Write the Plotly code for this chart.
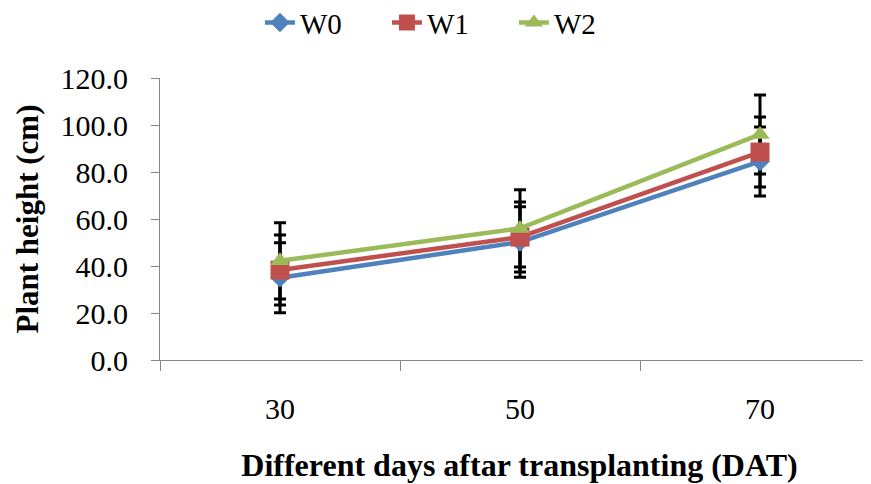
import plotly.graph_objects as go

days = ["30", "50", "70"]
series_names = ["W0", "W1", "W2"]
w0 = [35.0, 50.2, 84.5]
w1 = [38.3, 52.3, 88.5]
w2 = [42.2, 56.0, 96.0]
w0_err = [14.9, 15.0, 14.7]
w1_err = [14.9, 14.9, 14.9]
w2_err = [16.2, 16.4, 16.8]
y_ticks = [0, 20, 40, 60, 80, 100, 120]

values = [w0, w1, w2]
errors = [w0_err, w1_err, w2_err]
colors = ["#4F81BD", "#C0504D", "#9BBB59"]
symbols = ["diamond", "square", "triangle-up"]
sizes = [15, 19, 17]

FONT = "Liberation Serif"
fig = go.Figure()

# error bars first (below lines and markers)
for v, e in zip(values, errors):
    fig.add_trace(go.Scatter(
        x=days, y=v, mode="markers", marker=dict(size=1, opacity=0),
        error_y=dict(type="data", array=e, visible=True, color="black",
                     thickness=3, width=6),
        showlegend=False, hoverinfo="skip"))

for name, v, c, s, sz in zip(series_names, values, colors, symbols, sizes):
    fig.add_trace(go.Scatter(
        x=days, y=v, name=name, mode="lines+markers",
        line=dict(color=c, width=4.5),
        marker=dict(symbol=s, size=sz, color=c)))

fig.update_layout(
    width=871, height=484,
    margin=dict(l=152, r=0, t=70, b=132, autoexpand=False),
    plot_bgcolor="white", paper_bgcolor="white",
    font=dict(family=FONT, size=30, color="black"),
    legend=dict(orientation="h", x=0.139, xanchor="left",
                y=1.196, yanchor="middle", yref="paper",
                font=dict(size=29, family=FONT),
                entrywidth=82, entrywidthmode="pixels",
                traceorder="normal", tracegroupgap=0),
    showlegend=True,
)

fig.update_xaxes(
    type="category", range=[-0.5, 2.4958], tickson="boundaries",
    showline=True, linecolor="#868686", linewidth=1.2,
    ticks="outside", ticklen=10, tickcolor="#868686", tickwidth=1.2,
    showgrid=False, zeroline=False, ticklabelstandoff=22, automargin=False,
    title=dict(text="<b>Different days aftar transplanting (DAT)</b>",
               font=dict(size=32, family=FONT), standoff=29),
)
fig.update_yaxes(
    range=[0, 120], tickvals=y_ticks, tickformat=".1f",
    showline=True, linecolor="#868686", linewidth=1.2,
    ticks="outside", ticklen=8, tickcolor="#868686", tickwidth=1.2,
    showgrid=False, zeroline=False, ticklabelstandoff=17, automargin=False,
    title=dict(text="<b>Plant height (cm)</b>", font=dict(size=31, family=FONT),
               standoff=12),
)

fig.write_html("out.html")
